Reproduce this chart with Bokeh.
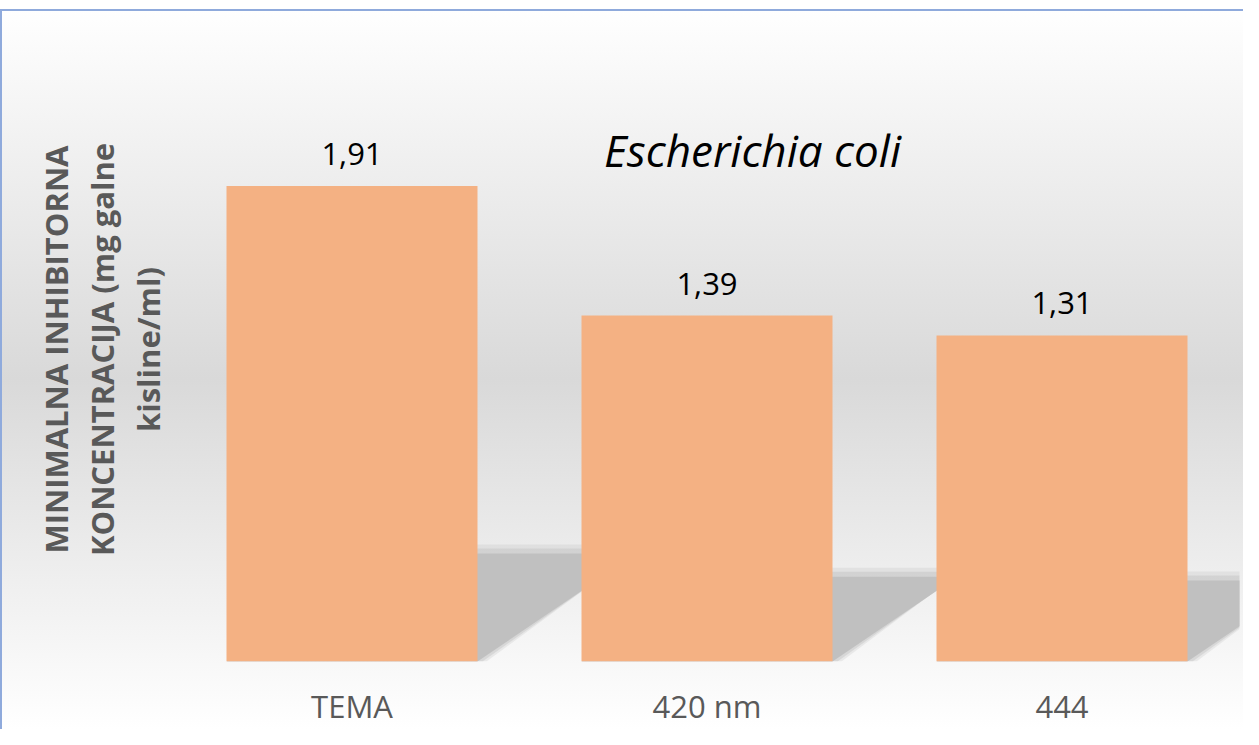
from bokeh.plotting import figure
from bokeh.models import ColumnDataSource, Range1d, FixedTicker, LabelSet, Label
from bokeh.core.properties import value
from bokeh.embed import file_html
from bokeh.resources import INLINE

# ---- data ----
categories = ["TEMA", "420 nm", "444"]
values = [1.91, 1.39, 1.31]
title_text = "Escherichia coli"
ylabel_lines = ["MINIMALNA INHIBITORNA", "KONCENTRACIJA (mg galne", "kisline/ml)"]

# ---- layout constants ----
W, H = 1243, 729
ML, MR, MT, MB = 174, 4, 37, 66
FW = W - ML - MR
FH = H - MT - MB
Y_END = 2.507
BAR_W = 0.707
FONT = "Open Sans"
GRAY_TXT = "#595959"
BAR_COLOR = "#F4B183"
EDGE = "#8FAADC"

xs = list(range(len(categories)))

p = figure(width=W, height=H, output_backend="svg", toolbar_location=None,
           x_range=Range1d(-0.5, len(categories) - 0.5), y_range=Range1d(0, Y_END),
           min_border_left=ML, min_border_right=MR, min_border_top=MT, min_border_bottom=MB)
p.background_fill_color = None
p.border_fill_color = None
p.outline_line_color = None
p.grid.visible = False
p.styles = {
    "background": (
        f"linear-gradient({EDGE}, {EDGE}) 0 9px / 100% 2px no-repeat, "
        f"linear-gradient({EDGE}, {EDGE}) 0 9px / 2px 100% no-repeat, "
        "linear-gradient(to bottom, #ffffff 0px, #ffffff 9px, #d9d9d9 52%, #ffffff 100%)"
    ),
}

px_x = FW / len(categories)
px_y = FH / Y_END
def dx(fx):
    return -0.5 + (fx - ML) / px_x
def dy(fy):
    return (H - MB - fy) / px_y

# ---- shadows (derived from values) ----
def shadow_poly(x, v, grow=0.0):
    h = 0.09 + 0.18 * v
    s = h * px_y / 0.68 / px_x
    gx = grow / px_x
    gy = grow / px_y
    xl = x - BAR_W / 2
    xr = x + BAR_W / 2
    return ([xl, xr + gx, xr + s + gx, xl + s], [0, 0, h + gy, h + gy])

for grow, color, alpha in [(9, "#b8b8b8", 0.22), (5, "#b8b8b8", 0.35), (0, "#c0c0c0", 1.0)]:
    pxs, pys = [], []
    for x, v in zip(xs, values):
        a, b = shadow_poly(x, v, grow)
        pxs.append(a)
        pys.append(b)
    p.patches(pxs, pys, fill_color=color, fill_alpha=alpha, line_color=None)

# ---- bars ----
src = ColumnDataSource(dict(
    x=xs, top=values,
    label=[f"{v:.2f}".replace(".", ",") for v in values],
))
p.vbar(x="x", top="top", width=BAR_W, bottom=0, source=src,
       fill_color=BAR_COLOR, line_color=None)

p.add_layout(LabelSet(x="x", y="top", text="label", source=src, y_offset=21,
                      text_align="center", text_baseline="alphabetic",
                      text_font=value(FONT), text_font_size=value("31px"),
                      text_color="#000000"))

# ---- x axis ----
p.xaxis.ticker = FixedTicker(ticks=xs)
p.xaxis.major_label_overrides = {i: c for i, c in zip(xs, categories)}
p.xaxis.axis_line_color = None
p.xaxis.major_tick_line_color = None
p.xaxis.minor_tick_line_color = None
p.xaxis.major_tick_in = 0
p.xaxis.major_tick_out = 0
p.xaxis.major_label_standoff = 23
p.xaxis.major_label_text_font = FONT
p.xaxis.major_label_text_font_size = "31px"
p.xaxis.major_label_text_color = GRAY_TXT

# ---- y axis (label only) ----
p.yaxis.ticker = FixedTicker(ticks=[])
p.yaxis.axis_line_color = None
p.yaxis.major_tick_line_color = None
p.yaxis.minor_tick_line_color = None
p.yaxis.major_tick_in = 0
p.yaxis.major_tick_out = 0
p.yaxis.axis_label = "\n".join(ylabel_lines)
p.yaxis.axis_label_text_font = FONT
p.yaxis.axis_label_text_font_size = "31px"
p.yaxis.axis_label_text_font_style = "bold"
p.yaxis.axis_label_text_color = GRAY_TXT
p.yaxis.axis_label_text_align = "center"
p.yaxis.axis_label_text_line_height = 1.09
p.yaxis.axis_label_standoff = 6

# ---- title ----
p.add_layout(Label(x=dx(752), y=dy(150), text=title_text, text_align="center",
                   text_baseline="alphabetic", text_font=FONT, text_font_size="44px",
                   text_font_style="italic", text_color="#000000"))

open("out.html", "w").write(file_html(p, INLINE))
